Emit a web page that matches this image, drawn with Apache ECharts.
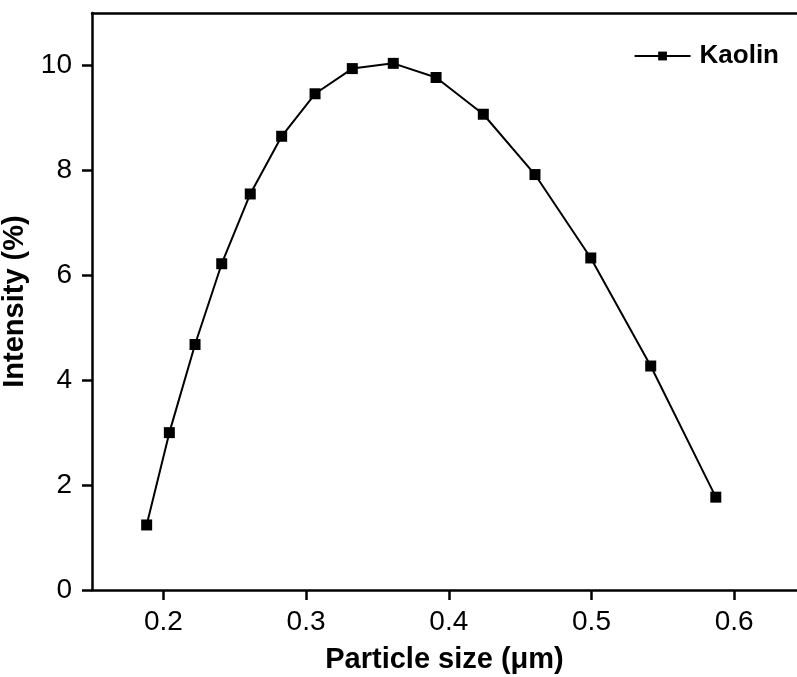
<!DOCTYPE html>
<html>
<head>
<meta charset="utf-8">
<script src="https://cdn.jsdelivr.net/npm/echarts@6/dist/echarts.min.js"></script>
<style>html,body{margin:0;padding:0;background:#fff;}#c{width:797px;height:677px;}</style>
</head>
<body>
<div id="c"></div>
<script>
const seriesName = 'Kaolin';
const particleSize = [0.1883, 0.2042, 0.2222, 0.2409, 0.2609, 0.2829, 0.3063, 0.3324, 0.3611, 0.3911, 0.4242, 0.4604, 0.4995, 0.5415, 0.5871];
const intensity = [1.24, 3.00, 4.68, 6.22, 7.55, 8.65, 9.46, 9.94, 10.04, 9.77, 9.07, 7.92, 6.33, 4.27, 1.77];
const xTicks = [0.2, 0.3, 0.4, 0.5, 0.6];
const yTicks = [0, 2, 4, 6, 8, 10];
const xTitle = 'Particle size (\u03bcm)';
const yTitle = 'Intensity (%)';

const font = '"Liberation Sans", Arial, sans-serif';
const xMin = 0.15, xMax = 0.644;
const chart = echarts.init(document.getElementById('c'), null, {renderer: 'canvas'});
chart.setOption({
  animation: false,
  backgroundColor: '#fff',
  grid: {left: 92, right: 0, top: 13, bottom: 87, containLabel: false, outerBoundsMode: 'none'},
  legend: {
    show: true,
    right: 13, top: 38,
    itemWidth: 56, itemHeight: 11,
    textStyle: {fontFamily: font, fontWeight: 'bold', fontSize: 26, color: '#000', padding: [0, 0, 0, 4]},
    data: [seriesName]
  },
  xAxis: [{
    type: 'value', min: xMin, max: xMax,
    name: xTitle, nameLocation: 'middle', nameGap: 55,
    nameTextStyle: {fontFamily: font, fontWeight: 'bold', fontSize: 29, color: '#000'},
    axisLine: {show: true, onZero: false, lineStyle: {color: '#000', width: 2.5}},
    axisTick: {show: true, inside: false, length: 10, customValues: xTicks, lineStyle: {color: '#000', width: 2.5}},
    axisLabel: {fontFamily: font, fontSize: 28, color: '#000', margin: 18, customValues: xTicks,
      formatter: function (v) { return v.toFixed(1); }},
    splitLine: {show: false}
  }, {
    type: 'value', position: 'top', min: xMin, max: xMax,
    axisLine: {show: true, onZero: false, lineStyle: {color: '#000', width: 2.5}},
    axisTick: {show: false}, axisLabel: {show: false}, splitLine: {show: false}
  }],
  yAxis: {
    type: 'value', min: 0, max: 11,
    name: yTitle, nameLocation: 'middle', nameGap: 50,
    nameTextStyle: {fontFamily: font, fontWeight: 'bold', fontSize: 29, color: '#000'},
    axisLine: {show: true, onZero: false, lineStyle: {color: '#000', width: 2.5}},
    axisTick: {show: true, inside: false, length: 10, customValues: yTicks, lineStyle: {color: '#000', width: 2.5}},
    axisLabel: {fontFamily: font, fontSize: 28, color: '#000', margin: 20, customValues: yTicks},
    splitLine: {show: false}
  },
  series: [{
    name: seriesName,
    type: 'line',
    data: particleSize.map((x, i) => [x, intensity[i]]),
    symbol: 'rect', symbolSize: 11,
    itemStyle: {color: '#000'},
    lineStyle: {color: '#000', width: 2},
    z: 3
  }]
});
</script>
</body>
</html>
